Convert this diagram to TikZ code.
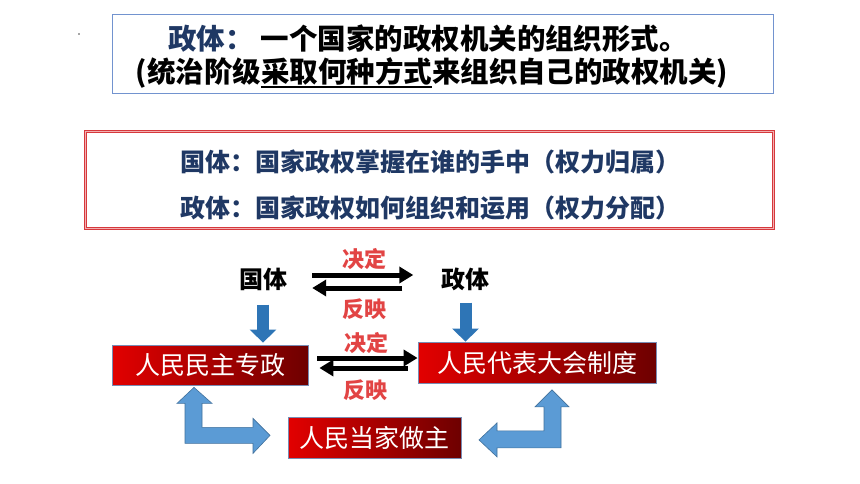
\documentclass[tikz,border=0pt]{standalone}
\usepackage{fontspec}
\setmainfont{Noto Sans CJK SC}
\usetikzlibrary{positioning,calc,arrows.meta}

\definecolor{navy}{RGB}{31,56,100}
\definecolor{frameblue}{RGB}{114,147,207}
\definecolor{framered}{RGB}{214,56,60}
\definecolor{framepink}{RGB}{242,176,178}
\definecolor{labelred}{RGB}{226,68,68}
\definecolor{downblue}{RGB}{46,117,182}
\definecolor{bentblue}{RGB}{91,155,213}
\definecolor{bentedge}{RGB}{65,113,156}
\definecolor{boxred}{RGB}{226,0,0}
\definecolor{boxdark}{RGB}{110,0,0}
\definecolor{boxedge}{RGB}{120,140,180}

\newcommand{\thickul}[1]{\setbox0=\hbox{#1}\rlap{\rule[-5pt]{\wd0}{1.8pt}}\box0}

\begin{document}
\begin{tikzpicture}[
    x=1pt, y=-1pt,
    topframe/.style={draw=frameblue, line width=1pt, minimum width=661pt, minimum height=79pt, inner sep=0pt},
    defframe/.style={draw=framered, double=framepink, double distance=1.2pt, line width=0.9pt, minimum width=688pt, minimum height=97pt, inner sep=0pt},
    titletext/.style={font=\fontsize{28.5}{34}\selectfont\bfseries, inner sep=0pt},
    deftext/.style={font=\fontsize{25}{30}\selectfont\bfseries, text=navy, inner sep=0pt},
    topic/.style={font=\fontsize{24}{28}\selectfont\bfseries, inner sep=0pt},
    tagtext/.style={font=\fontsize{22}{26}\selectfont\bfseries, text=labelred, inner sep=0pt},
    redbox/.style={draw=boxedge, line width=0.8pt, left color=boxred, right color=boxdark, text=white, font=\fontsize{25}{30}\selectfont, minimum height=40pt, inner sep=0pt},
    linkarrow/.style={line width=5pt, -{Triangle[length=14pt,width=16pt]}},
    downarrow/.style={draw=downblue, line width=12pt, -{Triangle[length=13pt,width=26pt]}},
    bentarrow/.style={fill=bentblue, draw=bentedge, line width=0.6pt, line join=miter}
]
\fill[white] (0,0) rectangle (860,484);
\useasboundingbox (0,0) rectangle (860,484);

% Definition boxes
\node[topframe] (top) at (442.5,54.5) {};
\fill[black!70] (79,34) circle (0.9);
\node[titletext] (t1) at (428,39) {{\color{navy}政体：}\hspace{7pt}一个国家的政权机关的组织形式。};
\node[titletext] (t2) at (432,73) {(统治阶级\thickul{采取何种方式}来组织自己的政权机关)};

\node[defframe] (def) at (429.5,180) {};
\node[deftext] (d1) at (430,162) {国体：国家政权掌握在谁的手中（权力归属）};
\node[deftext] (d2) at (430,208) {政体：国家政权如何组织和运用（权力分配）};

% Topics and boxes
\node[topic] (gt) at (263,279) {国体};
\node[topic] (zt) at (465.5,279) {政体};

\node[redbox, minimum width=196pt] (dict) at (210,365) {人民民主专政};
\node[redbox, minimum width=238pt, minimum height=41pt] (npc) at (537,362.5) {人民代表大会制度};
\node[redbox, minimum width=173pt, minimum height=41pt] (mast) at (374.5,437.5) {人民当家做主};

% Arrows between the topics
\draw[linkarrow, shorten <=25pt, shorten >=28pt] ([yshift=4pt]gt.east) -- ([yshift=4pt]zt.west) node[tagtext, midway, above=3pt] {决定};
\draw[linkarrow, shorten <=39pt, shorten >=25pt] ([yshift=-9pt]zt.west) -- ([yshift=-9pt]gt.east) node[tagtext, midway, below=8.5pt] {反映};

\draw[downarrow, shorten <=14pt, shorten >=2pt] (gt.south) -- (gt.south |- dict.north);
\draw[downarrow, shorten <=12pt] (zt.south) -- (zt.south |- npc.north);

% Arrows between the boxes
\draw[linkarrow, shorten <=9pt] ([yshift=7pt]dict.east) -- ([yshift=7pt]dict.east -| npc.west) node[tagtext, midway, above=2pt, xshift=3pt] {决定};
\draw[linkarrow, shorten <=10pt, shorten >=11pt] ([yshift=-3pt]dict.east -| npc.west) -- ([yshift=-3pt]dict.east) node[tagtext, midway, below=9.5pt, xshift=2pt] {反映};

% Bent arrows to the bottom box
\coordinate (lt) at ([xshift=-16pt,yshift=-2pt]dict.south);
\draw[bentarrow] (lt) -- ++(18,16) -- ++(-10,0) -- ++(0,24) -- ++(51,0) -- ++(0,-9) -- ++(17,17) -- ++(-17,18) -- ++(0,-10) -- ++(-68,0) -- ++(0,-40) -- ++(-8,0) -- cycle;
\coordinate (rt) at ([xshift=15pt,yshift=-6.5pt]npc.south);
\draw[bentarrow] (rt) -- ++(17,17) -- ++(-8,0) -- ++(0,41) -- ++(-64,0) -- ++(0,9) -- ++(-18,-17) -- ++(18,-17) -- ++(0,8) -- ++(47,0) -- ++(0,-24) -- ++(-9,0) -- cycle;

\end{tikzpicture}
\end{document}
